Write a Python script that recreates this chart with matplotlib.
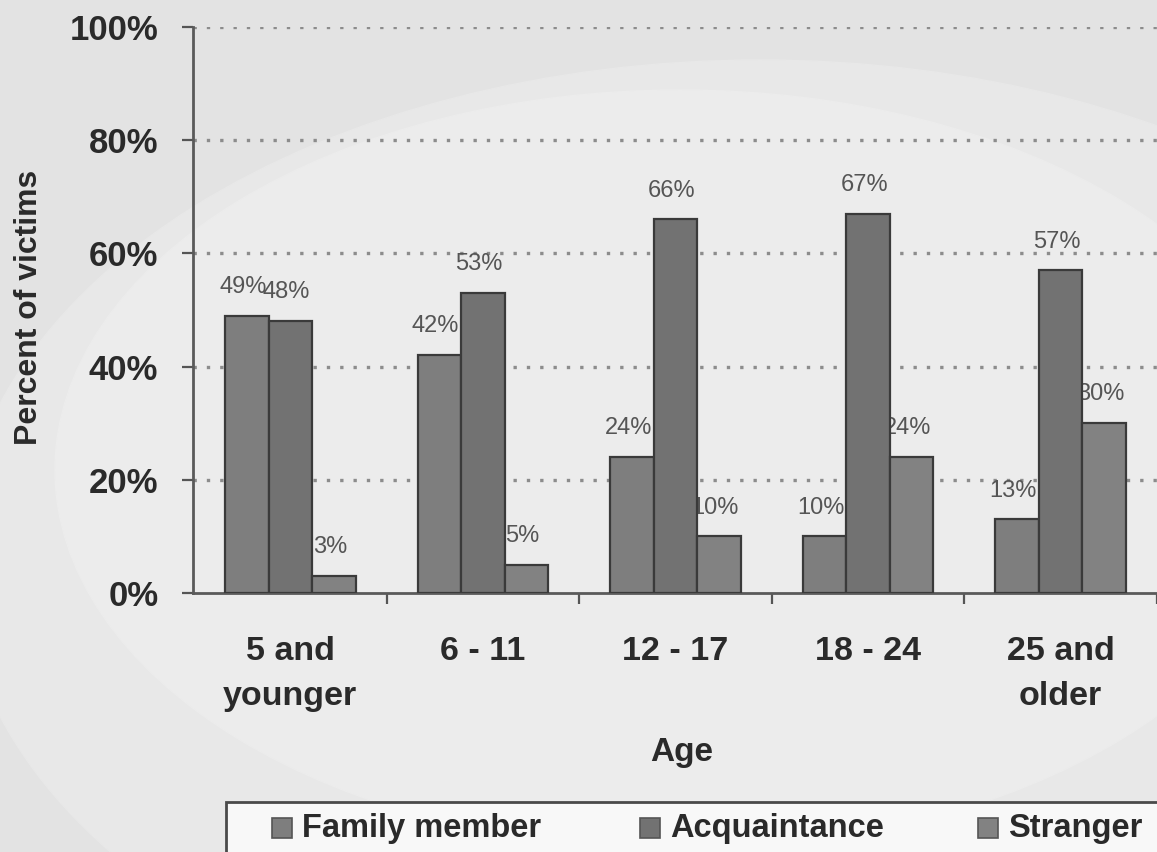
import matplotlib
matplotlib.use("Agg")
import matplotlib.pyplot as plt
import numpy as np
from matplotlib.patches import Ellipse, Rectangle

categories = ["5 and\nyounger", "6 - 11", "12 - 17", "18 - 24", "25 and\nolder"]
series_names = ["Family member", "Acquaintance", "Stranger"]
family = [49, 42, 24, 10, 13]
acquaintance = [48, 53, 66, 67, 57]
stranger = [3, 5, 10, 24, 30]
yticks = [0, 20, 40, 60, 80, 100]

plt.rcParams["font.family"] = ["Liberation Sans", "DejaVu Sans"]

W, H = 1157, 852
fig = plt.figure(figsize=(W / 100, H / 100), dpi=100)
fig.patch.set_facecolor("#e3e3e3")

# soft background shapes (scan look)
bg = fig.add_axes([0, 0, 1, 1], zorder=-5)
bg.set_xlim(0, W); bg.set_ylim(H, 0); bg.axis("off")
bg.add_patch(Ellipse((760, 560), 1600, 1000, color="#e8e8e8", zorder=0))
bg.add_patch(Ellipse((680, 470), 1250, 760, color="#ececec", zorder=0))

ax = fig.add_axes([193 / W, 1 - 593 / H, 1 - 193 / W, (593 - 27) / H])
ax.patch.set_alpha(0)

x = np.arange(len(categories))
bw = 0.226
series = [family, acquaintance, stranger]
colors = ["#7e7e7e", "#727272", "#828282"]
for i, (vals, col) in enumerate(zip(series, colors)):
    pos = x + (i - 1) * bw
    ax.bar(pos, vals, width=bw, color=col, edgecolor="#3a3a3a", linewidth=1.6,
           zorder=3, label=series_names[i])
    for p, v in zip(pos, vals):
        ax.text(p - 0.02, v + 5.1, f"{v}%", ha="center", va="center",
                fontsize=17, color="#555555", zorder=2)

ax.set_ylim(0, 100)
ax.set_xlim(-0.505, 4.436)
ax.set_yticks(yticks)
ax.set_yticklabels([f"{t}%" for t in yticks], fontsize=25, fontweight="bold",
                   color="#2a2a2a")
for t in yticks[1:]:
    ax.axhline(t, color="#8c8c8c", linestyle=(0, (1, 3)), linewidth=2.4, zorder=1)

ax.set_xticks(x)
ax.set_xticklabels(categories, fontsize=24.5, fontweight="bold", color="#2a2a2a",
                   linespacing=1.6)
ax.set_xticks(np.arange(len(categories)) + 0.5, minor=True)
ax.tick_params(axis="x", which="major", length=0, pad=31)
ax.tick_params(axis="x", which="minor", length=8, width=1.6, color="#555555", direction="out")
ax.tick_params(axis="y", length=8, width=1.6, color="#555555", pad=17)

for s in ["top", "right"]:
    ax.spines[s].set_visible(False)
for s in ["left", "bottom"]:
    ax.spines[s].set_color("#5a5a5a")
    ax.spines[s].set_linewidth(2.0)

fig.text(29 / W, 1 - 307 / H, "Percent of victims", fontsize=23, fontweight="bold",
         color="#2a2a2a", rotation=90, ha="center", va="center")
fig.text(682 / W, 1 - 752 / H, "Age", fontsize=24, fontweight="bold", color="#2a2a2a",
         ha="center", va="center")

# legend box (cut off at bottom/right)
bg.add_patch(Rectangle((226, 802), 1000, 80, facecolor="#f8f8f8", edgecolor="#4a4a4a",
                       linewidth=2.0, zorder=2))
leg_items = [(282, series_names[0]), (650, series_names[1]), (988, series_names[2])]
for (lx, name), col in zip(leg_items, colors):
    bg.add_patch(Rectangle((lx - 10, 818), 20, 20, facecolor=col, edgecolor="#555555",
                           linewidth=1.2, zorder=3))
    bg.text(lx + 20, 828, name, fontsize=23.5, fontweight="bold", color="#2a2a2a",
            va="center", ha="left", zorder=3)

fig.savefig("out.png", dpi=100, facecolor=fig.get_facecolor())
